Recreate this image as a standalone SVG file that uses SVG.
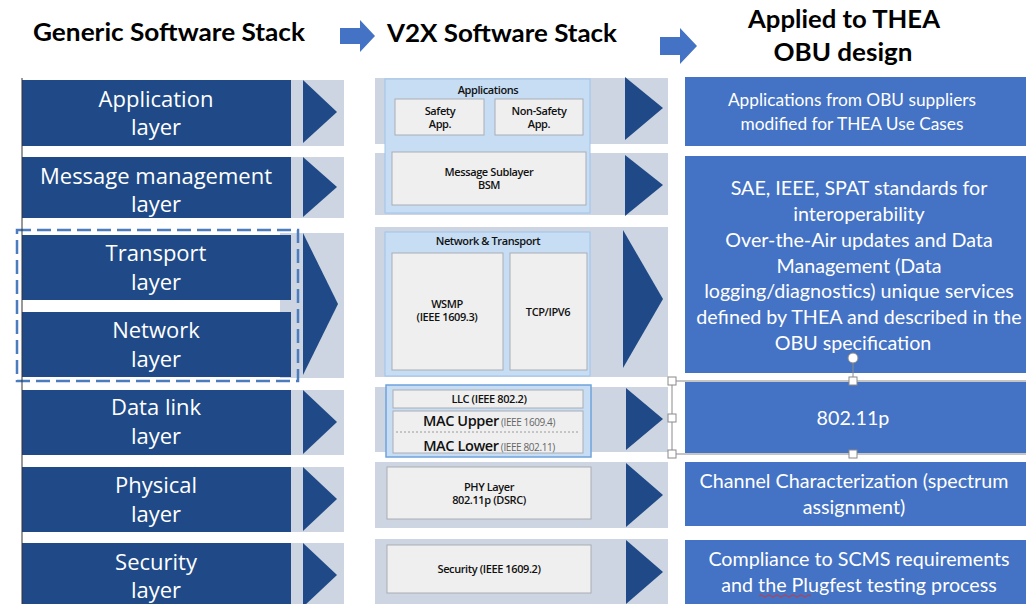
<svg xmlns="http://www.w3.org/2000/svg" width="1026" height="604" viewBox="0 0 1026 604">
<style>
.hdr{font-family:Lato,"Open Sans",sans-serif;font-weight:bold;font-size:24px;fill:#000;text-anchor:middle}
.bar{fill:#1F4A87}
.band{fill:#CDD5E3}
.tri{fill:#1F4A87}
.lt{font-family:"Open Sans","Noto Sans",sans-serif;font-size:22px;fill:#fff;text-anchor:middle}
.mid{fill:#EFEFEF;stroke:#A9ADB3;stroke-width:1}
.lb{fill:#C6DDF4;stroke:#9FC3EA;stroke-width:1}
.mt{font-family:"Open Sans","Noto Sans",sans-serif;font-size:11px;font-weight:600;fill:#111;text-anchor:middle;letter-spacing:-0.4px}
.rb{fill:#4472C4}
.rt{font-family:Lato,"Open Sans",sans-serif;font-size:19.7px;fill:#fff;text-anchor:middle}
.rs{font-size:17.3px}
.h{fill:#fff;stroke:#8a8a8a;stroke-width:1}
</style>
<rect width="1026" height="604" fill="#fff"/>
<g id="headers">
<text class="hdr" x="169" y="41" textLength="272" lengthAdjust="spacingAndGlyphs">Generic Software Stack</text>
<text class="hdr" x="502" y="42" textLength="230" lengthAdjust="spacingAndGlyphs">V2X Software Stack</text>
<text class="hdr" x="844" y="28" textLength="192" lengthAdjust="spacingAndGlyphs">Applied to THEA</text>
<text class="hdr" x="843" y="61" textLength="139" lengthAdjust="spacingAndGlyphs">OBU design</text>
</g>
<g id="connectors">
<path d="M340 28 H360 V20 L375 36 L360 52 V44 H340 Z" fill="#4472C4"/>
<path d="M660 37 H680 V28 L697 46 L680 64 V55 H660 Z" fill="#4472C4"/>
</g>
<g id="generic-stack">
<rect class="band" x="22" y="80" width="322" height="66"/>
<rect class="bar" x="22" y="80" width="269" height="66"/>
<polygon class="tri" points="303,80 337,112 303,143"/>
<text class="lt" x="156" y="107">Application</text>
<text class="lt" x="156" y="135">layer</text>
<rect class="band" x="22" y="157" width="322" height="61"/>
<rect class="bar" x="22" y="157" width="269" height="61"/>
<polygon class="tri" points="303,157 337,187 303,217"/>
<text class="lt" x="156" y="184">Message management</text>
<text class="lt" x="156" y="212">layer</text>
<rect class="band" x="280" y="233" width="64" height="145"/>
<rect class="bar" x="22" y="235" width="269" height="65"/>
<rect class="bar" x="22" y="312" width="269" height="65"/>
<polygon class="tri" points="303,233 338,304 303,375"/>
<text class="lt" x="156" y="261">Transport</text>
<text class="lt" x="156" y="290">layer</text>
<text class="lt" x="156" y="338">Network</text>
<text class="lt" x="156" y="367">layer</text>
<rect x="17" y="230" width="281" height="151" fill="none" stroke="#4B7DBE" stroke-width="2.5" stroke-dasharray="14 6"/>
<rect class="band" x="22" y="390" width="322" height="65"/>
<rect class="bar" x="22" y="390" width="269" height="65"/>
<polygon class="tri" points="303,390 337,422 303,454"/>
<text class="lt" x="156" y="415">Data link</text>
<text class="lt" x="156" y="444">layer</text>
<rect class="band" x="22" y="467" width="322" height="65"/>
<rect class="bar" x="22" y="467" width="269" height="65"/>
<polygon class="tri" points="303,467 337,499 303,531"/>
<text class="lt" x="156" y="493">Physical</text>
<text class="lt" x="156" y="522">layer</text>
<rect class="band" x="22" y="543" width="322" height="61"/>
<rect class="bar" x="22" y="543" width="269" height="61"/>
<polygon class="tri" points="303,543 337,575 303,607"/>
<text class="lt" x="156" y="570">Security</text>
<text class="lt" x="156" y="598">layer</text>
<line x1="22" y1="78" x2="22" y2="604" stroke="#333" stroke-width="1"/>
</g>
<g id="v2x-stack">
<rect class="band" x="375" y="78" width="293" height="66"/>
<rect class="band" x="375" y="153" width="293" height="62"/>
<rect class="lb" x="385" y="79" width="205" height="134"/>
<text class="mt" x="488" y="94">Applications</text>
<rect class="mid" x="395" y="99" width="89" height="36"/>
<text class="mt" x="440" y="115">Safety</text>
<text class="mt" x="440" y="128">App.</text>
<rect class="mid" x="495" y="99" width="88" height="36"/>
<text class="mt" x="539" y="115">Non-Safety</text>
<text class="mt" x="539" y="128">App.</text>
<rect class="mid" x="392" y="152" width="194" height="53"/>
<text class="mt" x="489" y="176">Message Sublayer</text>
<text class="mt" x="489" y="189">BSM</text>
<polygon class="tri" points="625,77 663,108 625,140"/>
<polygon class="tri" points="625,155 663,185 625,216"/>
<rect class="band" x="375" y="227" width="293" height="150"/>
<rect class="lb" x="385" y="232" width="205" height="144"/>
<text class="mt" x="488" y="245">Network &amp; Transport</text>
<rect class="mid" x="392" y="253" width="111" height="117"/>
<text class="mt" x="447" y="308">WSMP</text>
<text class="mt" x="447" y="321">(IEEE 1609.3)</text>
<rect class="mid" x="510" y="253" width="77" height="117"/>
<text class="mt" x="548" y="316">TCP/IPV6</text>
<polygon class="tri" points="623,230 663,299 623,368"/>
<rect class="band" x="375" y="387" width="293" height="65"/>
<rect x="386" y="385" width="205" height="72" fill="#C6DDF4" stroke="#6FA3DA" stroke-width="1.5"/>
<rect class="mid" x="393" y="390" width="190" height="18"/>
<text class="mt" x="489" y="403">LLC (IEEE 802.2)</text>
<rect class="mid" x="393" y="411" width="190" height="42"/>
<line x1="396" y1="432" x2="580" y2="432" stroke="#9a9a9a" stroke-width="1" stroke-dasharray="2 2"/>
<text x="489" y="426" text-anchor="middle" font-family="'Open Sans','Noto Sans',sans-serif" letter-spacing="-0.4"><tspan font-size="14.5" font-weight="600" fill="#111">MAC Upper</tspan><tspan font-size="10" fill="#666"> (IEEE 1609.4)</tspan></text>
<text x="489" y="451" text-anchor="middle" font-family="'Open Sans','Noto Sans',sans-serif" letter-spacing="-0.4"><tspan font-size="14.5" font-weight="600" fill="#111">MAC Lower</tspan><tspan font-size="10" fill="#666"> (IEEE 802.11)</tspan></text>
<polygon class="tri" points="626,388 663,419 626,450"/>
<rect class="band" x="375" y="462" width="293" height="66"/>
<rect class="mid" x="387" y="467" width="204" height="52"/>
<text class="mt" x="489" y="491">PHY Layer</text>
<text class="mt" x="489" y="504">802.11p (DSRC)</text>
<polygon class="tri" points="626,463 663,495 626,527"/>
<rect class="band" x="375" y="539" width="293" height="65"/>
<rect class="mid" x="387" y="545" width="204" height="48"/>
<text class="mt" x="489" y="573">Security (IEEE 1609.2)</text>
<polygon class="tri" points="626,540 663,572 626,604"/>
</g>
<g id="thea-obu">
<rect class="rb" x="685" y="77" width="341" height="69"/>
<text class="rt rs" x="852" y="106">Applications from OBU suppliers</text>
<text class="rt rs" x="852" y="130">modified for THEA Use Cases</text>
<rect class="rb" x="685" y="156" width="341" height="217"/>
<text class="rt" x="859" y="195">SAE, IEEE, SPAT standards for</text>
<text class="rt" x="859" y="221">interoperability</text>
<text class="rt" x="859" y="247">Over-the-Air updates and Data</text>
<text class="rt" x="859" y="273">Management (Data</text>
<text class="rt" x="859" y="298">logging/diagnostics) unique services</text>
<text class="rt" x="859" y="324">defined by THEA and described in the</text>
<text class="rt" x="853" y="350">OBU specification</text>
<rect class="rb" x="685" y="382" width="341" height="71"/>
<text class="rt" x="853" y="425">802.11p</text>
<rect class="rb" x="685" y="462" width="341" height="64"/>
<text class="rt" x="854" y="488">Channel Characterization (spectrum</text>
<text class="rt" x="854" y="514">assignment)</text>
<rect class="rb" x="685" y="540" width="341" height="64"/>
<text class="rt" x="859" y="566">Compliance to SCMS requirements</text>
<text class="rt" x="859" y="592">and the Plugfest testing process</text>
<path d="M759 596 q2 -2 4 0 t4 0 t4 0 t4 0 t4 0 t4 0 t4 0 t4 0 t4 0 t4 0 t4 0 t4 0 t4 0" fill="none" stroke="#d33" stroke-width="1"/>
</g>
<g id="selection-handles">
<path d="M672 381 H1026 M672 454 H1026 M672 381 V454 M853 363 V381" fill="none" stroke="#8a8a8a" stroke-width="1"/>
<circle cx="853" cy="358" r="5" fill="#fff" stroke="#8a8a8a"/>
<rect class="h" x="668" y="377" width="8" height="8"/>
<rect class="h" x="849" y="377" width="8" height="8"/>
<rect class="h" x="668" y="414" width="8" height="8"/>
<rect class="h" x="668" y="450" width="8" height="8"/>
<rect class="h" x="849" y="450" width="8" height="8"/>
</g>
</svg>
